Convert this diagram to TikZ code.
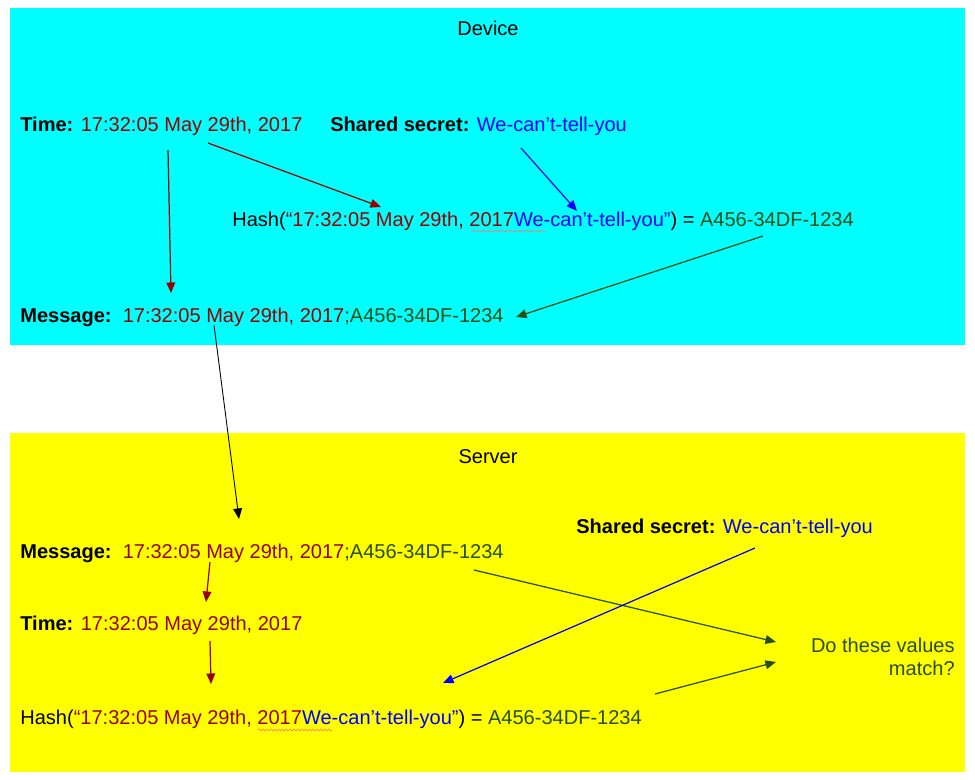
\documentclass[tikz,border=0pt]{standalone}
\usepackage{fontspec}
\setmainfont{Liberation Sans}
\usepackage{tikz}
\usetikzlibrary{arrows.meta,positioning,decorations.pathmorphing}

\definecolor{devbg}{RGB}{0,255,255}
\definecolor{srvbg}{RGB}{255,255,0}
\definecolor{timered}{RGB}{153,0,0}
\definecolor{hashgreen}{RGB}{39,78,19}
\definecolor{secretblue}{RGB}{0,0,255}

\newcommand{\timestr}{\textcolor{timered}{17:32:05 May 29th, 2017}}
\newcommand{\secretstr}{\textcolor{secretblue}{We-can’t-tell-you}}
\newcommand{\hashval}{\textcolor{hashgreen}{A456-34DF-1234}}
\newcommand{\hashstr}{Hash(\textcolor{timered}{“17:32:05 May 29th, 2017}\textcolor{secretblue}{We-can’t-tell-you”}) = \hashval}
\newcommand{\msgstr}{\textbf{Message:}\ \ \timestr\textcolor{hashgreen}{;A456-34DF-1234}}

\begin{document}
\begin{tikzpicture}[x=0.02cm,y=-0.02cm,
    font=\fontsize{11.4}{13}\selectfont,
    txt/.style={anchor=base west,inner sep=0pt},
    title/.style={anchor=base,inner sep=0pt},
    link/.style={-{Triangle[length=6pt,width=5pt]},line width=0.7pt},
    squiggle/.style={red!55,line width=0.3pt,decorate,
        decoration={snake,amplitude=0.6pt,segment length=2.2pt}}]
    \useasboundingbox (0,0) rectangle (975,779);
    \fill[devbg] (10,8) rectangle (965,345);
    \fill[srvbg] (10,433) rectangle (965,772);

    % device side
    \node[title] (devtitle) at (488,35) {Device};
    \node[txt] (dtime) at (20,131) {\textbf{Time:} \timestr};
    \node[txt] (dsecret) at (330,131) {\textbf{Shared secret:} \secretstr};
    \node[txt] (dhash) at (232,226) {\hashstr};
    \node[txt] (dmsg) at (20,322) {\msgstr};

    % server side
    \node[title] (srvtitle) at (488,463) {Server};
    \node[txt] (ssecret) at (576,533) {\textbf{Shared secret:} \secretstr};
    \node[txt] (smsg) at (20,558) {\msgstr};
    \node[txt] (stime) at (20,630) {\textbf{Time:} \timestr};
    \node[anchor=north east,inner sep=0pt,align=right,text=hashgreen] (match) at (955,638) {Do these values\\match?};
    \node[txt] (shash) at (20,724) {\hashstr};

    % spelling marks
    \draw[squiggle] (471,231) -- (545,231);
    \draw[squiggle] (258,730) -- (332,730);

    % arrow ends
    \coordinate (dtime-a) at (168,150);
    \coordinate (dmsg-a) at (171,293);
    \coordinate (dtime-b) at (208,143);
    \coordinate (dhash-a) at (381,207);
    \coordinate (dsecret-a) at (521,148);
    \coordinate (dhash-b) at (577,211);
    \coordinate (dhash-c) at (763,236);
    \coordinate (dmsg-b) at (516,317);
    \coordinate (dmsg-c) at (214,325);
    \coordinate (smsg-a) at (239,519);
    \coordinate (smsg-b) at (210,562);
    \coordinate (stime-a) at (206,602);
    \coordinate (stime-b) at (210,641);
    \coordinate (shash-a) at (211,684);
    \coordinate (smsg-c) at (474,570);
    \coordinate (match-a) at (776,642);
    \coordinate (ssecret-a) at (755,548);
    \coordinate (shash-b) at (443,683);
    \coordinate (shash-c) at (655,694);
    \coordinate (match-b) at (776,662);

    \draw[link,timered] (dtime-a) -- (dmsg-a);
    \draw[link,timered] (dtime-b) -- (dhash-a);
    \draw[link,secretblue] (dsecret-a) -- (dhash-b);
    \draw[link,hashgreen] (dhash-c) -- (dmsg-b);
    \draw[link,black,line width=0.5pt] (dmsg-c) -- (smsg-a);
    \draw[link,timered] (smsg-b) -- (stime-a);
    \draw[link,timered] (stime-b) -- (shash-a);
    \draw[link,hashgreen] (smsg-c) -- (match-a);
    \draw[link,secretblue] (ssecret-a) -- (shash-b);
    \draw[link,hashgreen] (shash-c) -- (match-b);
\end{tikzpicture}
\end{document}
